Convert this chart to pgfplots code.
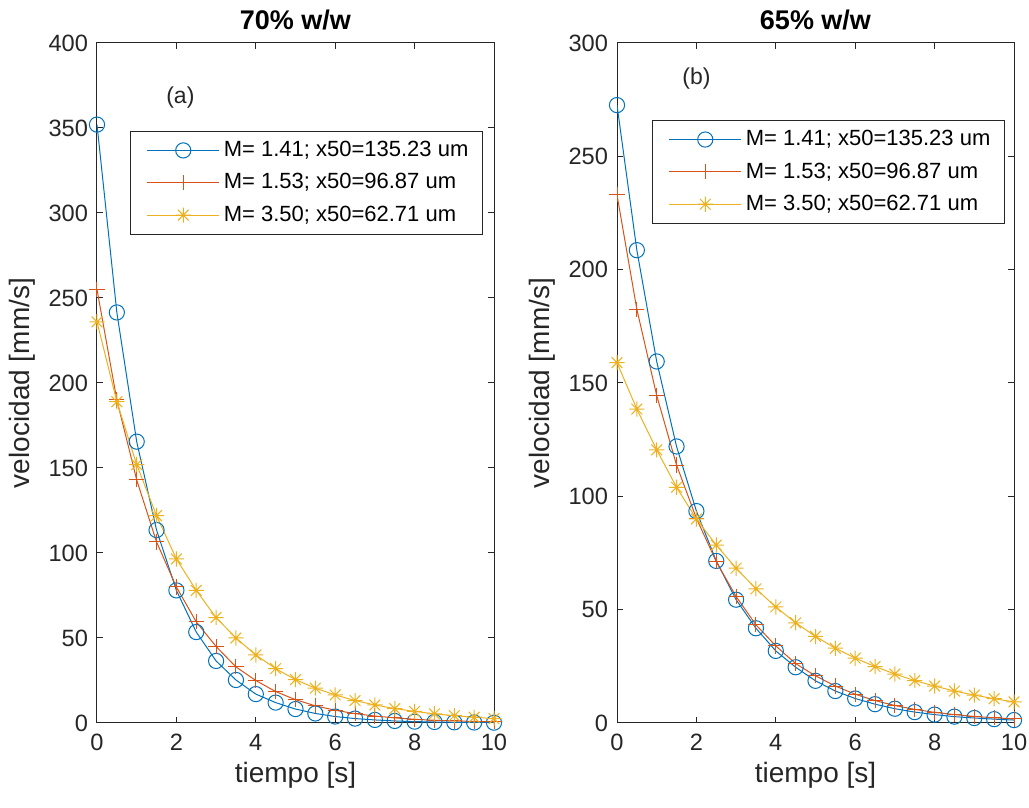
\documentclass[border=0pt]{standalone}
\usepackage{fontspec}
\setmainfont{Liberation Sans}
\usepackage{pgfplots}
\pgfplotsset{compat=1.18}
\usepackage{pgfplotstable}
\definecolor{mblue}{rgb}{0,0.447,0.741}
\definecolor{morange}{rgb}{0.85,0.325,0.098}
\definecolor{myellow}{rgb}{0.929,0.694,0.125}
\definecolor{axgray}{rgb}{0.15,0.15,0.15}
\pgfdeclareplotmark{mstar}{%
  \pgfpathmoveto{\pgfqpoint{-\pgfplotmarksize}{0pt}}\pgfpathlineto{\pgfqpoint{\pgfplotmarksize}{0pt}}%
  \pgfpathmoveto{\pgfqpoint{0pt}{-\pgfplotmarksize}}\pgfpathlineto{\pgfqpoint{0pt}{\pgfplotmarksize}}%
  \pgfpathmoveto{\pgfqpoint{-0.707\pgfplotmarksize}{-0.707\pgfplotmarksize}}\pgfpathlineto{\pgfqpoint{0.707\pgfplotmarksize}{0.707\pgfplotmarksize}}%
  \pgfpathmoveto{\pgfqpoint{-0.707\pgfplotmarksize}{0.707\pgfplotmarksize}}\pgfpathlineto{\pgfqpoint{0.707\pgfplotmarksize}{-0.707\pgfplotmarksize}}%
  \pgfusepathqstroke}
\pgfplotstableread{
t a b c
0 352 255 236
0.5 241.5 190 189
1 165.5 143 152
1.5 113.5 106.5 122
2 78 80 96.5
2.5 53.5 59.5 78
3 36.5 45 62
3.5 25.3 33 50
4 17 25 40
4.5 12 18.5 32
5 8.2 13.7 25.5
5.5 5.6 10.1 20.5
6 3.8 7.5 16.5
6.5 2.6 5.5 13.2
7 1.8 4.1 10.6
7.5 1.2 3 8.5
8 0.8 2.2 6.8
8.5 0.6 1.6 5.4
9 0.4 1.2 4.3
9.5 0.3 0.9 3.4
10 0.2 0.7 2.6
}\seventy
\pgfplotstableread{
t a b c
0 272.6 233 159
0.5 208.6 182.5 138.5
1 159.5 144.5 120.5
1.5 122 113.8 104
2 93.5 90.3 90
2.5 71.5 71.2 78.5
3 54.4 55.8 68.3
3.5 41.8 43.3 59.2
4 31.8 34 51.2
4.5 24.6 26.2 44.2
5 18.6 20.8 38.2
5.5 14.1 16.3 33
6 10.8 12.7 28.6
6.5 8.3 9.9 24.9
7 6.3 7.7 21.6
7.5 4.8 6 18.7
8 3.7 4.7 16.3
8.5 2.8 3.7 14.1
9 2.2 2.9 12.3
9.5 1.7 2.3 10.7
10 1.3 1.8 9.3
}\sixtyfive
\pgfplotsset{
  mystyle/.style={
    scale only axis, width=198.5pt, height=340pt,
    xmin=0, xmax=10, ymin=0,
    xtick={0,2,...,10},
    axis line style={axgray, line width=0.5pt},
    tick style={axgray, line width=0.5pt},
    major tick length=3pt,
    tick align=inside,
    ticklabel style={font=\fontsize{11.8}{13}\selectfont, text=axgray},
    yticklabel style={xshift=-1pt},
    xticklabel style={yshift=-2pt},
    /pgf/number format/assume math mode=true,
    xlabel={tiempo [s]}, ylabel={velocidad [mm/s]},
    label style={font=\fontsize{14}{16}\selectfont, text=axgray},
    xlabel style={yshift=1pt},
    title style={font=\bfseries\fontsize{13.5}{15}\selectfont, yshift=-3pt},
    legend cell align=left,
    legend style={font=\fontsize{11}{13}\selectfont, draw=axgray, line width=0.5pt, row sep=3pt, inner xsep=5pt, inner ysep=3pt},
    legend image code/.code={\path (0pt,0pt); \draw[mark repeat=2,mark phase=2,#1] plot coordinates {(3pt,0pt) (21pt,0pt) (39pt,0pt)};},
    every axis plot/.append style={line width=0.5pt, mark size=3.8pt},
  }
}
\begin{document}
\begin{tikzpicture}
\useasboundingbox (-48.5pt,-42.5pt) rectangle (466pt,361.5pt);
\begin{axis}[mystyle, at={(0pt,0pt)}, anchor=south west, ymax=400, ytick={0,50,...,400},
  title={70\% w/w},
  legend style={at={(0.972,0.871)}, anchor=north east}]
\addplot[mblue, mark=o] table[x=t,y=a] {\seventy};
\addplot[morange, mark=+] table[x=t,y=b] {\seventy};
\addplot[myellow, mark=mstar] table[x=t,y=c] {\seventy};
\legend{M= 1.41; x50=135.23 um, M= 1.53; x50=96.87 um, M= 3.50; x50=62.71 um}
\node[font=\fontsize{11.5}{13}\selectfont, text=axgray] at (axis cs:2.1,368) {(a)};
\end{axis}
\begin{axis}[mystyle, at={(260pt,0pt)}, anchor=south west, ymax=300, ytick={0,50,...,300},
  title={65\% w/w},
  legend style={at={(0.977,0.887)}, anchor=north east}]
\addplot[mblue, mark=o] table[x=t,y=a] {\sixtyfive};
\addplot[morange, mark=+] table[x=t,y=b] {\sixtyfive};
\addplot[myellow, mark=mstar] table[x=t,y=c] {\sixtyfive};
\legend{M= 1.41; x50=135.23 um, M= 1.53; x50=96.87 um, M= 3.50; x50=62.71 um}
\node[font=\fontsize{11.5}{13}\selectfont, text=axgray] at (axis cs:2.0,284.5) {(b)};
\end{axis}
\end{tikzpicture}
\end{document}
